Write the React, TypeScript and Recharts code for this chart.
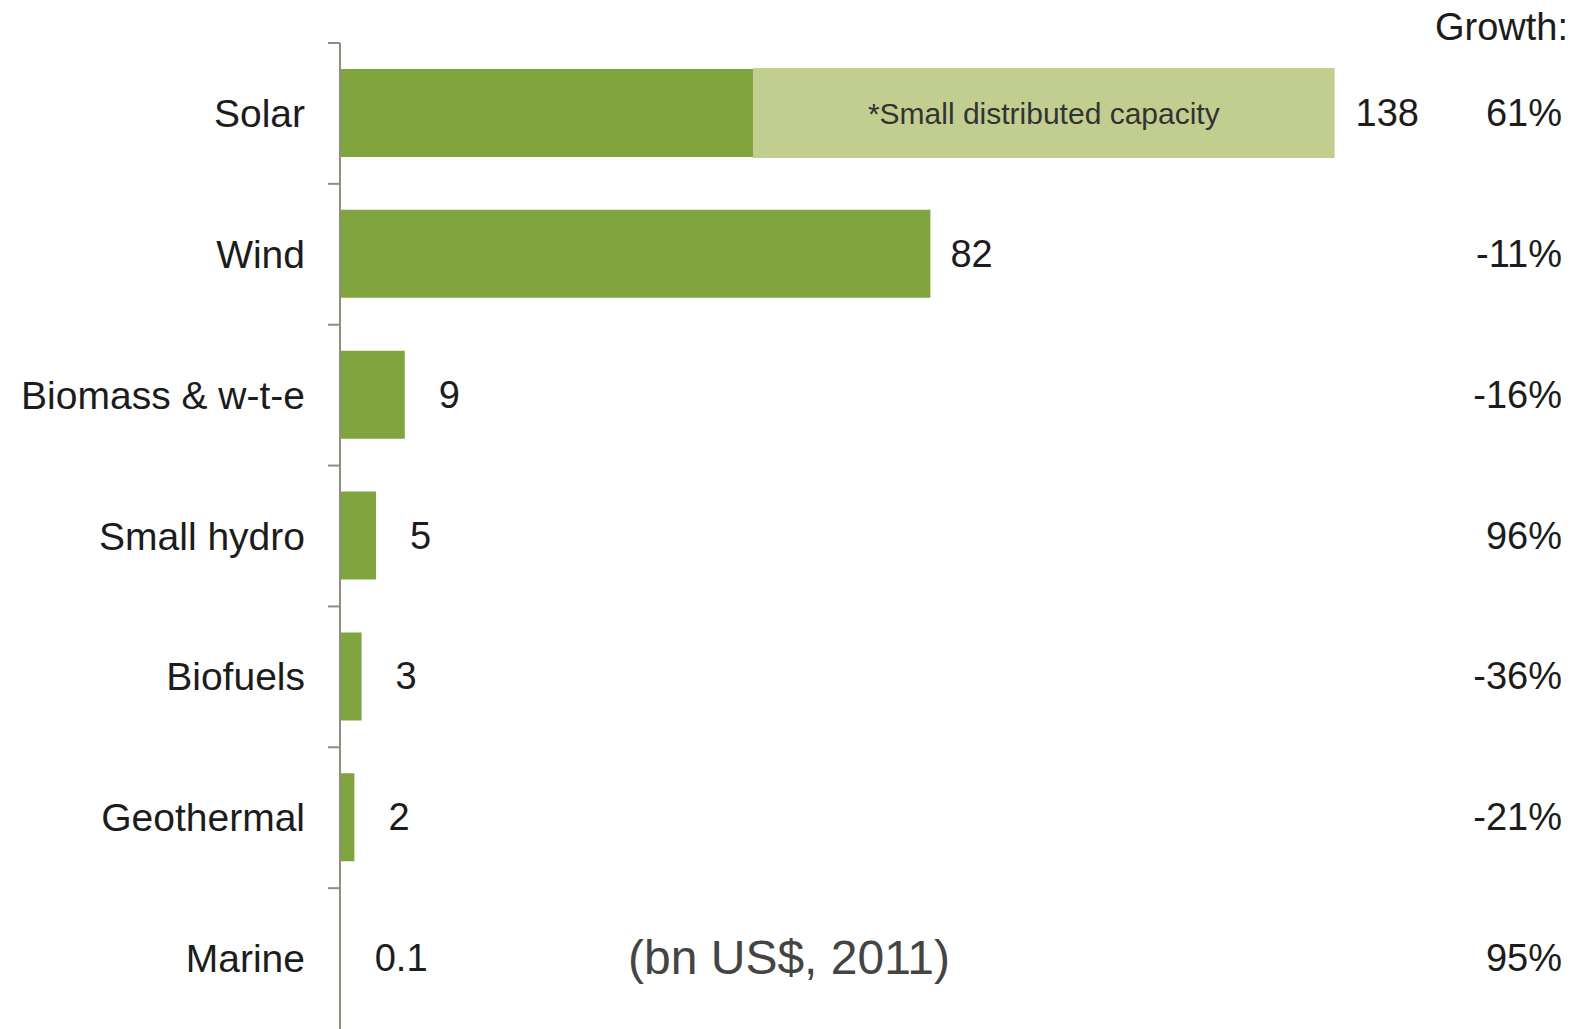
import { BarChart, Bar, XAxis, YAxis, LabelList } from 'recharts'

const categories = ['Solar', 'Wind', 'Biomass & w-t-e', 'Small hydro', 'Biofuels', 'Geothermal', 'Marine']
// Solar is split into utility-scale (dark) and small distributed capacity (light)
const baseValues = [57.5, 82, 9, 5, 3, 2, 0.1]
const distributedValues = [80.5, 0, 0, 0, 0, 0, 0]
const totalLabels = ['138', '82', '9', '5', '3', '2', '0.1']
const growthLabels = ['61%', '-11%', '-16%', '96%', '-36%', '-21%', '95%']

const data = categories.map((name, i) => ({
  name,
  base: baseValues[i],
  distributed: distributedValues[i],
}))

const W = 1575
const H = 1029
const MARGIN = { top: 43, right: 155, left: 0, bottom: 0 }
const AXIS_W = 340
const BAND = (H - MARGIN.top - MARGIN.bottom) / categories.length
const FONT = '"Liberation Sans", Arial, sans-serif'
const AXIS_COLOR = '#8f8f80'
const TEXT = '#1c1c1c'

function CategoryTick(props: any) {
  const { y, payload } = props
  const ax = AXIS_W
  const top = y - BAND / 2
  return (
    <g>
      <line x1={ax - 12} x2={ax} y1={top} y2={top} stroke={AXIS_COLOR} strokeWidth={2} />
      <text x={ax - 35} y={y} textAnchor="end" dominantBaseline="central" fontSize={39} fill={TEXT} fontFamily={FONT}>
        {payload.value}
      </text>
    </g>
  )
}

// total value next to the end of each bar; Solar's sits after the light segment
function TotalLabel(props: any) {
  const { x, y, width, height, index, top } = props
  if (top ? index !== 0 : index === 0) return null
  const gap = index === 0 ? 22 : width > 100 ? 20 : 34
  return (
    <text x={x + width + gap} y={y + height / 2} dominantBaseline="central" fontSize={38} fill={TEXT} fontFamily={FONT}>
      {totalLabels[index]}
    </text>
  )
}

function NoteLabel(props: any) {
  const { x, y, width, height, index } = props
  if (index !== 0) return null
  return (
    <text x={x + width / 2} y={y + height / 2} textAnchor="middle" dominantBaseline="central" fontSize={30} fill="#333" fontFamily={FONT}>
      *Small distributed capacity
    </text>
  )
}

function GrowthLabel(props: any) {
  const { y, height, index } = props
  return (
    <text x={W - 13} y={y + height / 2} textAnchor="end" dominantBaseline="central" fontSize={38} fill={TEXT} fontFamily={FONT}>
      {growthLabels[index]}
    </text>
  )
}

export default function App() {
  return (
    <div style={{ position: 'relative', width: W, height: H, background: '#fff', fontFamily: FONT }}>
      <style>{'body{margin:0}'}</style>
      <BarChart width={W} height={H} data={data} layout="vertical" margin={MARGIN}>
        <XAxis type="number" domain={[0, 150]} hide />
        <YAxis
          type="category"
          dataKey="name"
          width={AXIS_W}
          axisLine={{ stroke: AXIS_COLOR, strokeWidth: 2 }}
          tickLine={false}
          tick={<CategoryTick />}
          interval={0}
        />
        <Bar dataKey="base" stackId="a" fill="#80a43e" barSize={88} isAnimationActive={false}>
          <LabelList dataKey="name" content={<GrowthLabel />} />
          <LabelList dataKey="name" content={<TotalLabel />} />
        </Bar>
        <Bar dataKey="distributed" stackId="a" fill="#c2ce90" stroke="#c2ce90" strokeWidth={2} barSize={88} isAnimationActive={false}>
          <LabelList dataKey="name" content={<NoteLabel />} />
          <LabelList dataKey="name" content={<TotalLabel top />} />
        </Bar>
      </BarChart>
      <div style={{ position: 'absolute', right: 7, top: 6, fontSize: 38, color: TEXT, lineHeight: '42px' }}>Growth:</div>
      <div style={{ position: 'absolute', left: 628, top: 930, fontSize: 48, color: '#444', lineHeight: '56px' }}>(bn US$, 2011)</div>
    </div>
  )
}
